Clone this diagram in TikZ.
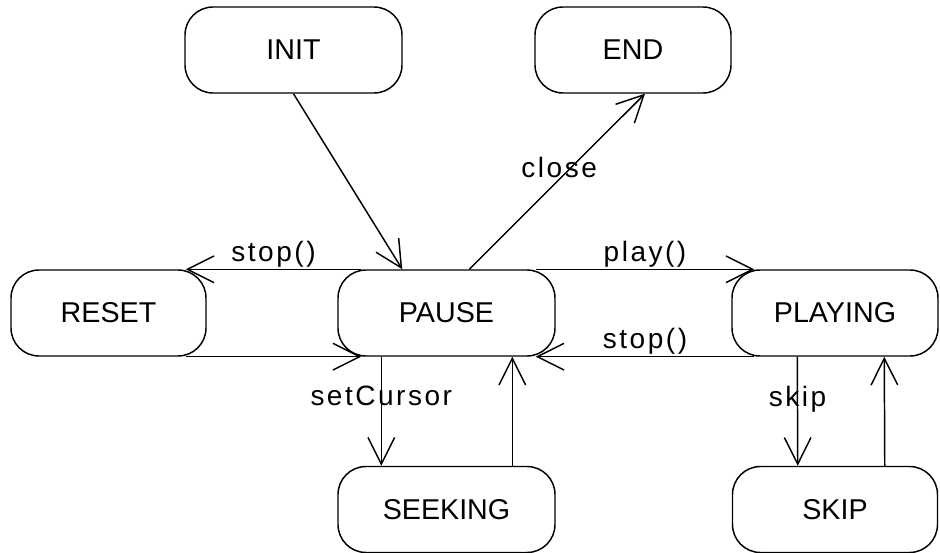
\documentclass[tikz,border=0pt]{standalone}
\usepackage{fontspec}
\setmainfont{Liberation Sans}
\newfontfamily\eventfont[LetterSpace=9]{Liberation Sans}
\usetikzlibrary{arrows.meta,calc}

\begin{document}
\begin{tikzpicture}[x=0.75pt, y=-0.75pt,
            state/.style={draw=black, line width=1.1pt, rounded corners=21pt, minimum height=64.5pt, font=\fontsize{21.5}{25}\selectfont},
            trans/.style={line width=1.1pt, -{Straight Barb[length=20pt, width=20pt]}},
            event/.style={font=\eventfont\fontsize{21}{25}\selectfont, inner sep=1pt}
        ]
        \useasboundingbox (0,0) rectangle (940,553);

        % States
        \node[state, minimum width=162.75pt] (init) at (293.5,50) {INIT};
        \node[state, minimum width=147pt] (end) at (633,50) {END};
        \node[state, minimum width=146.25pt] (reset) at (108.5,313) {RESET};
        \node[state, minimum width=162.75pt] (pause) at (446.5,313) {PAUSE};
        \node[state, minimum width=154.5pt] (playing) at (835,313) {PLAYING};
        \node[state, minimum width=162.75pt] (seeking) at (446.5,509.5) {SEEKING};
        \node[state, minimum width=153.75pt] (skip) at (835,509.5) {SKIP};

        % Transitions around PAUSE
        \draw[trans] (init.south) -- ($(pause.north west)+(65,0)$);
        \draw[trans] ($(pause.north west)+(132,0)$) -- ($(end.south)+(12,0)$)
            node[event, pos=0.58, xshift=-9pt] {close};
        \draw[trans] ($(pause.north west)+(24,0)$) -- ($(reset.north east)+(-21,0)$)
            node[event, midway, above] {stop()};
        \draw[trans] ($(reset.south east)+(-21,0)$) -- ($(pause.south west)+(24,0)$);
        \draw[trans] ($(pause.north east)+(-20,0)$) -- ($(playing.north west)+(23,0)$)
            node[event, midway, above] {play()};
        \draw[trans] ($(playing.south west)+(23,0)$) -- ($(pause.south east)+(-20,0)$)
            node[event, midway, above] {stop()};

        % Seeking and skipping
        \draw[trans] ($(pause.south west)+(44,0)$) -- ($(seeking.north west)+(44,0)$)
            node[event, pos=0.36] {setCursor};
        \draw[trans] ($(seeking.north west)+(175,0)$) -- ($(pause.south west)+(175,0)$);
        \draw[trans] ($(playing.south west)+(66,0)$) -- ($(skip.north west)+(66,0)$)
            node[event, pos=0.39] {skip};
        \draw[trans] ($(skip.north west)+(153,0)$) -- ($(playing.south west)+(153,0)$);

    \end{tikzpicture}
\end{document}
